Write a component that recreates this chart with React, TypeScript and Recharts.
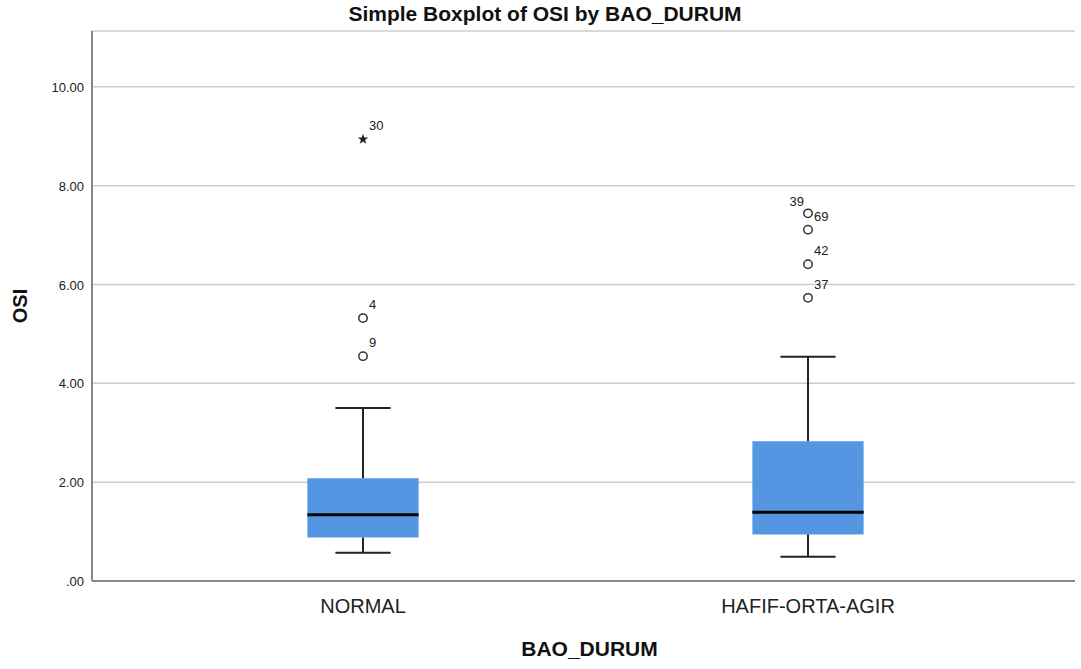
import React from "react";
import {
  ScatterChart,
  Scatter,
  XAxis,
  YAxis,
  CartesianGrid,
  ReferenceArea,
  ReferenceLine,
} from "recharts";

// Box statistics per group (OSI by BAO_DURUM)
const categories = ["NORMAL", "HAFIF-ORTA-AGIR"];
const whiskerLow = [0.57, 0.49];
const q1 = [0.88, 0.94];
const median = [1.34, 1.39];
const q3 = [2.08, 2.83];
const whiskerHigh = [3.5, 4.54];

// Outliers (circles) and extremes (stars), with case numbers
const normalOutliers = [
  { x: 1, y: 5.32, id: "4" },
  { x: 1, y: 4.55, id: "9" },
];
const normalExtremes = [{ x: 1, y: 8.94, id: "30" }];
const agirOutliers = [
  { x: 2, y: 7.44, id: "39" },
  { x: 2, y: 7.11, id: "69" },
  { x: 2, y: 6.41, id: "42" },
  { x: 2, y: 5.73, id: "37" },
];

const yTicks = [0, 2, 4, 6, 8, 10];

const FONT = "'Liberation Sans', Arial, sans-serif";
const BOX_FILL = "#5596e3";
const BOX_HALF = 0.125;
const CAP_HALF = 0.062;
const leftLabelled = new Set(["39"]);

const CaseLabel = ({ cx, cy, id }: { cx: number; cy: number; id: string }) => {
  const left = leftLabelled.has(id);
  return (
    <text
      x={left ? cx - 4 : cx + 6}
      y={left ? cy - 7 : cy - 9}
      textAnchor={left ? "end" : "start"}
      fontFamily={FONT}
      fontSize={13}
      fill="#222"
    >
      {id}
    </text>
  );
};

const CircleMark = (props: any) => {
  const { cx, cy, payload } = props;
  return (
    <g>
      <circle cx={cx} cy={cy} r={4.2} fill="#fff" stroke="#333" strokeWidth={1.5} />
      <CaseLabel cx={cx} cy={cy} id={payload.id} />
    </g>
  );
};

const StarMark = (props: any) => {
  const { cx, cy, payload } = props;
  const pts: string[] = [];
  for (let i = 0; i < 10; i++) {
    const r = i % 2 === 0 ? 5.5 : 2.2;
    const a = -Math.PI / 2 + (i * Math.PI) / 5;
    pts.push(`${cx + r * Math.cos(a)},${cy + r * Math.sin(a)}`);
  }
  return (
    <g>
      <polygon points={pts.join(" ")} fill="#222" />
      <CaseLabel cx={cx} cy={cy} id={payload.id} />
    </g>
  );
};

const CategoryTick = (props: any) => {
  const { x, y, payload } = props;
  return (
    <text x={x} y={y + 24} textAnchor="middle" fontFamily={FONT} fontSize={20} fill="#222">
      {categories[payload.value - 1]}
    </text>
  );
};

const ValueTick = (props: any) => {
  const { x, y, payload } = props;
  const v = payload.value as number;
  return (
    <text x={x} y={y + 5} textAnchor="end" fontFamily={FONT} fontSize={13} fill="#222">
      {v === 0 ? ".00" : v.toFixed(2)}
    </text>
  );
};

export default function App() {
  return (
    <div style={{ position: "absolute", left: 0, top: 0, width: 1081, height: 669, background: "#fff" }}>
      <div
        style={{
          position: "absolute",
          left: 0,
          top: 3,
          width: 1090,
          textAlign: "center",
          fontFamily: FONT,
          fontWeight: "bold",
          fontSize: 21,
          lineHeight: "21px",
          color: "#111",
        }}
      >
        Simple Boxplot of OSI by BAO_DURUM
      </div>
      <ScatterChart width={1081} height={669} margin={{ top: 31, right: 6, bottom: 0, left: 0 }}>
        <CartesianGrid vertical={false} stroke="#cccccc" strokeWidth={1.5} />
        <XAxis
          type="number"
          dataKey="x"
          domain={[0.391, 2.6]}
          ticks={[1, 2]}
          allowDataOverflow
          height={88}
          axisLine={{ stroke: "#888", strokeWidth: 2 }}
          tickLine={false}
          tick={<CategoryTick />}
          label={{
            content: (p: any) => (
              <text
                x={p.viewBox.x + p.viewBox.width / 2 + 6}
                y={656}
                textAnchor="middle"
                fontFamily={FONT}
                fontWeight="bold"
                fontSize={21}
                fill="#111"
              >
                BAO_DURUM
              </text>
            ),
          }}
        />
        <YAxis
          type="number"
          dataKey="y"
          domain={[0, 11.13]}
          ticks={yTicks}
          allowDataOverflow
          width={92}
          axisLine={{ stroke: "#888", strokeWidth: 2 }}
          tickLine={false}
          tick={<ValueTick />}
          label={{
            content: (p: any) => {
              const cx = 27;
              const cy = p.viewBox.y + p.viewBox.height / 2 + 0;
              return (
                <text
                  x={cx}
                  y={cy}
                  transform={`rotate(-90 ${cx} ${cy})`}
                  textAnchor="middle"
                  fontFamily={FONT}
                  fontWeight="bold"
                  fontSize={20}
                  fill="#111"
                >
                  OSI
                </text>
              );
            },
          }}
        />

        {categories.map((c, i) => (
          <ReferenceArea
            key={`box-${c}`}
            x1={i + 1 - BOX_HALF}
            x2={i + 1 + BOX_HALF}
            y1={q1[i]}
            y2={q3[i]}
            fill={BOX_FILL}
            fillOpacity={1}
            stroke="none"
          />
        ))}
        {categories.map((c, i) => (
          <ReferenceLine
            key={`wu-${c}`}
            segment={[{ x: i + 1, y: q3[i] }, { x: i + 1, y: whiskerHigh[i] }]}
            stroke="#222"
            strokeWidth={2}
          />
        ))}
        {categories.map((c, i) => (
          <ReferenceLine
            key={`wl-${c}`}
            segment={[{ x: i + 1, y: q1[i] }, { x: i + 1, y: whiskerLow[i] }]}
            stroke="#222"
            strokeWidth={2}
          />
        ))}
        {categories.map((c, i) => (
          <ReferenceLine
            key={`cu-${c}`}
            segment={[{ x: i + 1 - CAP_HALF, y: whiskerHigh[i] }, { x: i + 1 + CAP_HALF, y: whiskerHigh[i] }]}
            stroke="#222"
            strokeWidth={2}
          />
        ))}
        {categories.map((c, i) => (
          <ReferenceLine
            key={`cl-${c}`}
            segment={[{ x: i + 1 - CAP_HALF, y: whiskerLow[i] }, { x: i + 1 + CAP_HALF, y: whiskerLow[i] }]}
            stroke="#222"
            strokeWidth={2}
          />
        ))}
        {categories.map((c, i) => (
          <ReferenceLine
            key={`med-${c}`}
            segment={[{ x: i + 1 - BOX_HALF, y: median[i] }, { x: i + 1 + BOX_HALF, y: median[i] }]}
            stroke="#000"
            strokeWidth={3}
          />
        ))}

        <Scatter data={normalOutliers} shape={<CircleMark />} isAnimationActive={false} />
        <Scatter data={normalExtremes} shape={<StarMark />} isAnimationActive={false} />
        <Scatter data={agirOutliers} shape={<CircleMark />} isAnimationActive={false} />
      </ScatterChart>
    </div>
  );
}
